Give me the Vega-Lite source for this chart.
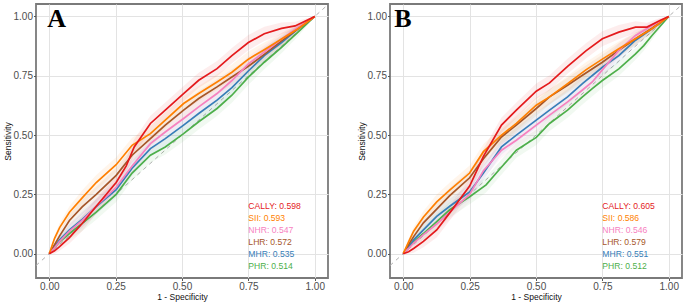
{
"$schema": "https://vega.github.io/schema/vega-lite/v6.json",
"padding": {"left": 2, "right": 3, "top": 3, "bottom": 0},
"spacing": 27,
"config": {
  "font": "Liberation Sans",
  "view": {"stroke": "#7a7a7a", "strokeWidth": 1.8},
  "axis": {
    "domain": false,
    "labelFontSize": 10,
    "labelColor": "#4d4d4d",
    "labelPadding": 1,
    "labelOverlap": false,
    "labelFlush": false,
    "tickSize": 2.5,
    "tickColor": "#555555",
    "tickOpacity": {"condition": {"test": "(datum.value*4)%1!==0", "value": 0}, "value": 1},
    "gridColor": {"condition": {"test": "(datum.value*4)%1!==0", "value": "#f0f0f0"}, "value": "#e3e3e3"},
    "gridWidth": {"condition": {"test": "(datum.value*4)%1!==0", "value": 0.6}, "value": 1},
    "titleFontSize": 8.5,
    "titleFontWeight": "normal",
    "titleColor": "#111111",
    "titlePadding": 1,
    "labelExpr": "(datum.value*4)%1===0 ? format(datum.value,'.2f') : ''"
  }
},
"datasets": {
  "roc": [
{"p":"A","m":"PHR","x":0,"y":0,"lo":0,"hi":0},
{"p":"A","m":"PHR","x":0.02,"y":0.025,"lo":0.013,"hi":0.037},
{"p":"A","m":"PHR","x":0.039,"y":0.05,"lo":0.032,"hi":0.068},
{"p":"A","m":"PHR","x":0.076,"y":0.085,"lo":0.06,"hi":0.11},
{"p":"A","m":"PHR","x":0.124,"y":0.128,"lo":0.096,"hi":0.16},
{"p":"A","m":"PHR","x":0.177,"y":0.175,"lo":0.143,"hi":0.207},
{"p":"A","m":"PHR","x":0.252,"y":0.25,"lo":0.218,"hi":0.282},
{"p":"A","m":"PHR","x":0.312,"y":0.34,"lo":0.308,"hi":0.372},
{"p":"A","m":"PHR","x":0.381,"y":0.415,"lo":0.383,"hi":0.447},
{"p":"A","m":"PHR","x":0.437,"y":0.45,"lo":0.418,"hi":0.482},
{"p":"A","m":"PHR","x":0.506,"y":0.506,"lo":0.474,"hi":0.538},
{"p":"A","m":"PHR","x":0.563,"y":0.556,"lo":0.524,"hi":0.588},
{"p":"A","m":"PHR","x":0.632,"y":0.612,"lo":0.58,"hi":0.644},
{"p":"A","m":"PHR","x":0.688,"y":0.668,"lo":0.636,"hi":0.7},
{"p":"A","m":"PHR","x":0.75,"y":0.744,"lo":0.712,"hi":0.776},
{"p":"A","m":"PHR","x":0.81,"y":0.807,"lo":0.777,"hi":0.837},
{"p":"A","m":"PHR","x":0.875,"y":0.87,"lo":0.845,"hi":0.895},
{"p":"A","m":"PHR","x":0.937,"y":0.934,"lo":0.916,"hi":0.952},
{"p":"A","m":"PHR","x":1,"y":1,"lo":1,"hi":1},
{"p":"A","m":"MHR","x":0,"y":0,"lo":0,"hi":0},
{"p":"A","m":"MHR","x":0.02,"y":0.03,"lo":0.018,"hi":0.042},
{"p":"A","m":"MHR","x":0.039,"y":0.058,"lo":0.04,"hi":0.076},
{"p":"A","m":"MHR","x":0.076,"y":0.1,"lo":0.075,"hi":0.125},
{"p":"A","m":"MHR","x":0.124,"y":0.145,"lo":0.113,"hi":0.177},
{"p":"A","m":"MHR","x":0.177,"y":0.198,"lo":0.166,"hi":0.23},
{"p":"A","m":"MHR","x":0.252,"y":0.27,"lo":0.238,"hi":0.302},
{"p":"A","m":"MHR","x":0.312,"y":0.36,"lo":0.328,"hi":0.392},
{"p":"A","m":"MHR","x":0.381,"y":0.443,"lo":0.411,"hi":0.475},
{"p":"A","m":"MHR","x":0.437,"y":0.485,"lo":0.453,"hi":0.517},
{"p":"A","m":"MHR","x":0.506,"y":0.542,"lo":0.51,"hi":0.574},
{"p":"A","m":"MHR","x":0.563,"y":0.591,"lo":0.559,"hi":0.623},
{"p":"A","m":"MHR","x":0.632,"y":0.647,"lo":0.615,"hi":0.679},
{"p":"A","m":"MHR","x":0.688,"y":0.7,"lo":0.668,"hi":0.732},
{"p":"A","m":"MHR","x":0.75,"y":0.77,"lo":0.738,"hi":0.802},
{"p":"A","m":"MHR","x":0.81,"y":0.835,"lo":0.805,"hi":0.865},
{"p":"A","m":"MHR","x":0.875,"y":0.89,"lo":0.865,"hi":0.915},
{"p":"A","m":"MHR","x":0.937,"y":0.948,"lo":0.93,"hi":0.966},
{"p":"A","m":"MHR","x":1,"y":1,"lo":1,"hi":1},
{"p":"A","m":"LHR","x":0,"y":0,"lo":0,"hi":0},
{"p":"A","m":"LHR","x":0.02,"y":0.038,"lo":0.026,"hi":0.05},
{"p":"A","m":"LHR","x":0.039,"y":0.075,"lo":0.057,"hi":0.093},
{"p":"A","m":"LHR","x":0.076,"y":0.14,"lo":0.115,"hi":0.165},
{"p":"A","m":"LHR","x":0.124,"y":0.197,"lo":0.165,"hi":0.229},
{"p":"A","m":"LHR","x":0.177,"y":0.25,"lo":0.218,"hi":0.282},
{"p":"A","m":"LHR","x":0.252,"y":0.33,"lo":0.298,"hi":0.362},
{"p":"A","m":"LHR","x":0.312,"y":0.415,"lo":0.383,"hi":0.447},
{"p":"A","m":"LHR","x":0.381,"y":0.485,"lo":0.453,"hi":0.517},
{"p":"A","m":"LHR","x":0.437,"y":0.542,"lo":0.51,"hi":0.574},
{"p":"A","m":"LHR","x":0.506,"y":0.605,"lo":0.573,"hi":0.637},
{"p":"A","m":"LHR","x":0.563,"y":0.654,"lo":0.622,"hi":0.686},
{"p":"A","m":"LHR","x":0.632,"y":0.703,"lo":0.671,"hi":0.735},
{"p":"A","m":"LHR","x":0.688,"y":0.745,"lo":0.713,"hi":0.777},
{"p":"A","m":"LHR","x":0.75,"y":0.79,"lo":0.758,"hi":0.822},
{"p":"A","m":"LHR","x":0.81,"y":0.84,"lo":0.81,"hi":0.87},
{"p":"A","m":"LHR","x":0.875,"y":0.897,"lo":0.872,"hi":0.922},
{"p":"A","m":"LHR","x":0.937,"y":0.948,"lo":0.93,"hi":0.966},
{"p":"A","m":"LHR","x":1,"y":1,"lo":1,"hi":1},
{"p":"A","m":"NHR","x":0,"y":0,"lo":0,"hi":0},
{"p":"A","m":"NHR","x":0.02,"y":0.025,"lo":0.013,"hi":0.037},
{"p":"A","m":"NHR","x":0.039,"y":0.052,"lo":0.034,"hi":0.07},
{"p":"A","m":"NHR","x":0.076,"y":0.095,"lo":0.07,"hi":0.12},
{"p":"A","m":"NHR","x":0.124,"y":0.14,"lo":0.108,"hi":0.172},
{"p":"A","m":"NHR","x":0.177,"y":0.2,"lo":0.168,"hi":0.232},
{"p":"A","m":"NHR","x":0.252,"y":0.28,"lo":0.248,"hi":0.312},
{"p":"A","m":"NHR","x":0.312,"y":0.37,"lo":0.338,"hi":0.402},
{"p":"A","m":"NHR","x":0.381,"y":0.464,"lo":0.432,"hi":0.496},
{"p":"A","m":"NHR","x":0.437,"y":0.513,"lo":0.481,"hi":0.545},
{"p":"A","m":"NHR","x":0.506,"y":0.57,"lo":0.538,"hi":0.602},
{"p":"A","m":"NHR","x":0.563,"y":0.619,"lo":0.587,"hi":0.651},
{"p":"A","m":"NHR","x":0.632,"y":0.675,"lo":0.643,"hi":0.707},
{"p":"A","m":"NHR","x":0.688,"y":0.73,"lo":0.698,"hi":0.762},
{"p":"A","m":"NHR","x":0.75,"y":0.8,"lo":0.768,"hi":0.832},
{"p":"A","m":"NHR","x":0.81,"y":0.85,"lo":0.82,"hi":0.88},
{"p":"A","m":"NHR","x":0.875,"y":0.905,"lo":0.88,"hi":0.93},
{"p":"A","m":"NHR","x":0.937,"y":0.955,"lo":0.937,"hi":0.973},
{"p":"A","m":"NHR","x":1,"y":1,"lo":1,"hi":1},
{"p":"A","m":"SII","x":0,"y":0,"lo":0,"hi":0},
{"p":"A","m":"SII","x":0.02,"y":0.065,"lo":0.053,"hi":0.077},
{"p":"A","m":"SII","x":0.039,"y":0.11,"lo":0.092,"hi":0.128},
{"p":"A","m":"SII","x":0.076,"y":0.175,"lo":0.15,"hi":0.2},
{"p":"A","m":"SII","x":0.124,"y":0.235,"lo":0.203,"hi":0.267},
{"p":"A","m":"SII","x":0.177,"y":0.3,"lo":0.268,"hi":0.332},
{"p":"A","m":"SII","x":0.252,"y":0.375,"lo":0.343,"hi":0.407},
{"p":"A","m":"SII","x":0.312,"y":0.457,"lo":0.425,"hi":0.489},
{"p":"A","m":"SII","x":0.381,"y":0.506,"lo":0.474,"hi":0.538},
{"p":"A","m":"SII","x":0.437,"y":0.563,"lo":0.531,"hi":0.595},
{"p":"A","m":"SII","x":0.506,"y":0.633,"lo":0.601,"hi":0.665},
{"p":"A","m":"SII","x":0.563,"y":0.675,"lo":0.643,"hi":0.707},
{"p":"A","m":"SII","x":0.632,"y":0.724,"lo":0.692,"hi":0.756},
{"p":"A","m":"SII","x":0.688,"y":0.765,"lo":0.733,"hi":0.797},
{"p":"A","m":"SII","x":0.75,"y":0.82,"lo":0.788,"hi":0.852},
{"p":"A","m":"SII","x":0.81,"y":0.86,"lo":0.83,"hi":0.89},
{"p":"A","m":"SII","x":0.875,"y":0.905,"lo":0.88,"hi":0.93},
{"p":"A","m":"SII","x":0.937,"y":0.948,"lo":0.93,"hi":0.966},
{"p":"A","m":"SII","x":1,"y":1,"lo":1,"hi":1},
{"p":"A","m":"CALLY","x":0,"y":0,"lo":0,"hi":0},
{"p":"A","m":"CALLY","x":0.02,"y":0.012,"lo":0,"hi":0.024},
{"p":"A","m":"CALLY","x":0.039,"y":0.03,"lo":0.012,"hi":0.048},
{"p":"A","m":"CALLY","x":0.076,"y":0.068,"lo":0.043,"hi":0.093},
{"p":"A","m":"CALLY","x":0.124,"y":0.127,"lo":0.095,"hi":0.159},
{"p":"A","m":"CALLY","x":0.177,"y":0.2,"lo":0.168,"hi":0.232},
{"p":"A","m":"CALLY","x":0.252,"y":0.3,"lo":0.268,"hi":0.332},
{"p":"A","m":"CALLY","x":0.29,"y":0.37,"lo":0.338,"hi":0.402},
{"p":"A","m":"CALLY","x":0.32,"y":0.45,"lo":0.418,"hi":0.482},
{"p":"A","m":"CALLY","x":0.381,"y":0.549,"lo":0.517,"hi":0.581},
{"p":"A","m":"CALLY","x":0.437,"y":0.605,"lo":0.573,"hi":0.637},
{"p":"A","m":"CALLY","x":0.506,"y":0.675,"lo":0.643,"hi":0.707},
{"p":"A","m":"CALLY","x":0.563,"y":0.731,"lo":0.699,"hi":0.763},
{"p":"A","m":"CALLY","x":0.632,"y":0.78,"lo":0.748,"hi":0.812},
{"p":"A","m":"CALLY","x":0.688,"y":0.835,"lo":0.803,"hi":0.867},
{"p":"A","m":"CALLY","x":0.75,"y":0.89,"lo":0.858,"hi":0.922},
{"p":"A","m":"CALLY","x":0.81,"y":0.927,"lo":0.897,"hi":0.957},
{"p":"A","m":"CALLY","x":0.875,"y":0.95,"lo":0.925,"hi":0.975},
{"p":"A","m":"CALLY","x":0.926,"y":0.96,"lo":0.942,"hi":0.978},
{"p":"A","m":"CALLY","x":0.963,"y":0.98,"lo":0.97,"hi":0.99},
{"p":"A","m":"CALLY","x":1,"y":1,"lo":1,"hi":1},
{"p":"B","m":"PHR","x":0,"y":0,"lo":0,"hi":0},
{"p":"B","m":"PHR","x":0.02,"y":0.025,"lo":0.013,"hi":0.037},
{"p":"B","m":"PHR","x":0.039,"y":0.05,"lo":0.032,"hi":0.068},
{"p":"B","m":"PHR","x":0.076,"y":0.085,"lo":0.06,"hi":0.11},
{"p":"B","m":"PHR","x":0.126,"y":0.135,"lo":0.103,"hi":0.167},
{"p":"B","m":"PHR","x":0.175,"y":0.185,"lo":0.153,"hi":0.217},
{"p":"B","m":"PHR","x":0.25,"y":0.24,"lo":0.208,"hi":0.272},
{"p":"B","m":"PHR","x":0.312,"y":0.29,"lo":0.258,"hi":0.322},
{"p":"B","m":"PHR","x":0.362,"y":0.355,"lo":0.323,"hi":0.387},
{"p":"B","m":"PHR","x":0.426,"y":0.436,"lo":0.404,"hi":0.468},
{"p":"B","m":"PHR","x":0.501,"y":0.49,"lo":0.458,"hi":0.522},
{"p":"B","m":"PHR","x":0.551,"y":0.549,"lo":0.517,"hi":0.581},
{"p":"B","m":"PHR","x":0.619,"y":0.605,"lo":0.573,"hi":0.637},
{"p":"B","m":"PHR","x":0.675,"y":0.661,"lo":0.629,"hi":0.693},
{"p":"B","m":"PHR","x":0.712,"y":0.696,"lo":0.664,"hi":0.728},
{"p":"B","m":"PHR","x":0.75,"y":0.73,"lo":0.698,"hi":0.762},
{"p":"B","m":"PHR","x":0.812,"y":0.779,"lo":0.749,"hi":0.809},
{"p":"B","m":"PHR","x":0.875,"y":0.842,"lo":0.817,"hi":0.867},
{"p":"B","m":"PHR","x":0.906,"y":0.877,"lo":0.855,"hi":0.899},
{"p":"B","m":"PHR","x":0.937,"y":0.92,"lo":0.902,"hi":0.938},
{"p":"B","m":"PHR","x":1,"y":1,"lo":1,"hi":1},
{"p":"B","m":"MHR","x":0,"y":0,"lo":0,"hi":0},
{"p":"B","m":"MHR","x":0.02,"y":0.03,"lo":0.018,"hi":0.042},
{"p":"B","m":"MHR","x":0.039,"y":0.058,"lo":0.04,"hi":0.076},
{"p":"B","m":"MHR","x":0.076,"y":0.1,"lo":0.075,"hi":0.125},
{"p":"B","m":"MHR","x":0.126,"y":0.157,"lo":0.125,"hi":0.189},
{"p":"B","m":"MHR","x":0.175,"y":0.2,"lo":0.168,"hi":0.232},
{"p":"B","m":"MHR","x":0.25,"y":0.26,"lo":0.228,"hi":0.292},
{"p":"B","m":"MHR","x":0.302,"y":0.34,"lo":0.308,"hi":0.372},
{"p":"B","m":"MHR","x":0.37,"y":0.45,"lo":0.418,"hi":0.482},
{"p":"B","m":"MHR","x":0.426,"y":0.5,"lo":0.468,"hi":0.532},
{"p":"B","m":"MHR","x":0.501,"y":0.563,"lo":0.531,"hi":0.595},
{"p":"B","m":"MHR","x":0.551,"y":0.605,"lo":0.573,"hi":0.637},
{"p":"B","m":"MHR","x":0.619,"y":0.661,"lo":0.629,"hi":0.693},
{"p":"B","m":"MHR","x":0.675,"y":0.717,"lo":0.685,"hi":0.749},
{"p":"B","m":"MHR","x":0.75,"y":0.786,"lo":0.754,"hi":0.818},
{"p":"B","m":"MHR","x":0.812,"y":0.835,"lo":0.805,"hi":0.865},
{"p":"B","m":"MHR","x":0.875,"y":0.9,"lo":0.875,"hi":0.925},
{"p":"B","m":"MHR","x":0.937,"y":0.948,"lo":0.93,"hi":0.966},
{"p":"B","m":"MHR","x":1,"y":1,"lo":1,"hi":1},
{"p":"B","m":"LHR","x":0,"y":0,"lo":0,"hi":0},
{"p":"B","m":"LHR","x":0.02,"y":0.038,"lo":0.026,"hi":0.05},
{"p":"B","m":"LHR","x":0.039,"y":0.072,"lo":0.054,"hi":0.09},
{"p":"B","m":"LHR","x":0.076,"y":0.13,"lo":0.105,"hi":0.155},
{"p":"B","m":"LHR","x":0.126,"y":0.188,"lo":0.156,"hi":0.22},
{"p":"B","m":"LHR","x":0.175,"y":0.245,"lo":0.213,"hi":0.277},
{"p":"B","m":"LHR","x":0.25,"y":0.32,"lo":0.288,"hi":0.352},
{"p":"B","m":"LHR","x":0.302,"y":0.4,"lo":0.368,"hi":0.432},
{"p":"B","m":"LHR","x":0.37,"y":0.492,"lo":0.46,"hi":0.524},
{"p":"B","m":"LHR","x":0.426,"y":0.542,"lo":0.51,"hi":0.574},
{"p":"B","m":"LHR","x":0.501,"y":0.612,"lo":0.58,"hi":0.644},
{"p":"B","m":"LHR","x":0.551,"y":0.661,"lo":0.629,"hi":0.693},
{"p":"B","m":"LHR","x":0.619,"y":0.71,"lo":0.678,"hi":0.742},
{"p":"B","m":"LHR","x":0.675,"y":0.752,"lo":0.72,"hi":0.784},
{"p":"B","m":"LHR","x":0.75,"y":0.807,"lo":0.775,"hi":0.839},
{"p":"B","m":"LHR","x":0.812,"y":0.857,"lo":0.827,"hi":0.887},
{"p":"B","m":"LHR","x":0.875,"y":0.906,"lo":0.881,"hi":0.931},
{"p":"B","m":"LHR","x":0.937,"y":0.95,"lo":0.932,"hi":0.968},
{"p":"B","m":"LHR","x":1,"y":1,"lo":1,"hi":1},
{"p":"B","m":"NHR","x":0,"y":0,"lo":0,"hi":0},
{"p":"B","m":"NHR","x":0.02,"y":0.022,"lo":0.01,"hi":0.034},
{"p":"B","m":"NHR","x":0.039,"y":0.045,"lo":0.027,"hi":0.063},
{"p":"B","m":"NHR","x":0.076,"y":0.08,"lo":0.055,"hi":0.105},
{"p":"B","m":"NHR","x":0.126,"y":0.125,"lo":0.093,"hi":0.157},
{"p":"B","m":"NHR","x":0.175,"y":0.175,"lo":0.143,"hi":0.207},
{"p":"B","m":"NHR","x":0.25,"y":0.25,"lo":0.218,"hi":0.282},
{"p":"B","m":"NHR","x":0.302,"y":0.35,"lo":0.318,"hi":0.382},
{"p":"B","m":"NHR","x":0.37,"y":0.436,"lo":0.404,"hi":0.468},
{"p":"B","m":"NHR","x":0.426,"y":0.478,"lo":0.446,"hi":0.51},
{"p":"B","m":"NHR","x":0.501,"y":0.542,"lo":0.51,"hi":0.574},
{"p":"B","m":"NHR","x":0.551,"y":0.584,"lo":0.552,"hi":0.616},
{"p":"B","m":"NHR","x":0.619,"y":0.64,"lo":0.608,"hi":0.672},
{"p":"B","m":"NHR","x":0.675,"y":0.69,"lo":0.658,"hi":0.722},
{"p":"B","m":"NHR","x":0.712,"y":0.724,"lo":0.692,"hi":0.756},
{"p":"B","m":"NHR","x":0.75,"y":0.775,"lo":0.743,"hi":0.807},
{"p":"B","m":"NHR","x":0.812,"y":0.857,"lo":0.827,"hi":0.887},
{"p":"B","m":"NHR","x":0.875,"y":0.92,"lo":0.895,"hi":0.945},
{"p":"B","m":"NHR","x":0.937,"y":0.962,"lo":0.944,"hi":0.98},
{"p":"B","m":"NHR","x":1,"y":1,"lo":1,"hi":1},
{"p":"B","m":"SII","x":0,"y":0,"lo":0,"hi":0},
{"p":"B","m":"SII","x":0.02,"y":0.05,"lo":0.038,"hi":0.062},
{"p":"B","m":"SII","x":0.039,"y":0.095,"lo":0.077,"hi":0.113},
{"p":"B","m":"SII","x":0.076,"y":0.155,"lo":0.13,"hi":0.18},
{"p":"B","m":"SII","x":0.126,"y":0.218,"lo":0.186,"hi":0.25},
{"p":"B","m":"SII","x":0.175,"y":0.268,"lo":0.236,"hi":0.3},
{"p":"B","m":"SII","x":0.25,"y":0.34,"lo":0.308,"hi":0.372},
{"p":"B","m":"SII","x":0.302,"y":0.43,"lo":0.398,"hi":0.462},
{"p":"B","m":"SII","x":0.37,"y":0.5,"lo":0.468,"hi":0.532},
{"p":"B","m":"SII","x":0.426,"y":0.549,"lo":0.517,"hi":0.581},
{"p":"B","m":"SII","x":0.501,"y":0.626,"lo":0.594,"hi":0.658},
{"p":"B","m":"SII","x":0.551,"y":0.661,"lo":0.629,"hi":0.693},
{"p":"B","m":"SII","x":0.619,"y":0.717,"lo":0.685,"hi":0.749},
{"p":"B","m":"SII","x":0.688,"y":0.775,"lo":0.743,"hi":0.807},
{"p":"B","m":"SII","x":0.75,"y":0.82,"lo":0.788,"hi":0.852},
{"p":"B","m":"SII","x":0.812,"y":0.864,"lo":0.834,"hi":0.894},
{"p":"B","m":"SII","x":0.875,"y":0.906,"lo":0.881,"hi":0.931},
{"p":"B","m":"SII","x":0.937,"y":0.948,"lo":0.93,"hi":0.966},
{"p":"B","m":"SII","x":1,"y":1,"lo":1,"hi":1},
{"p":"B","m":"CALLY","x":0,"y":0,"lo":0,"hi":0},
{"p":"B","m":"CALLY","x":0.02,"y":0.008,"lo":0,"hi":0.02},
{"p":"B","m":"CALLY","x":0.039,"y":0.022,"lo":0.004,"hi":0.04},
{"p":"B","m":"CALLY","x":0.076,"y":0.052,"lo":0.027,"hi":0.077},
{"p":"B","m":"CALLY","x":0.126,"y":0.1,"lo":0.068,"hi":0.132},
{"p":"B","m":"CALLY","x":0.175,"y":0.172,"lo":0.14,"hi":0.204},
{"p":"B","m":"CALLY","x":0.25,"y":0.285,"lo":0.253,"hi":0.317},
{"p":"B","m":"CALLY","x":0.302,"y":0.41,"lo":0.378,"hi":0.442},
{"p":"B","m":"CALLY","x":0.37,"y":0.542,"lo":0.51,"hi":0.574},
{"p":"B","m":"CALLY","x":0.426,"y":0.605,"lo":0.573,"hi":0.637},
{"p":"B","m":"CALLY","x":0.501,"y":0.685,"lo":0.653,"hi":0.717},
{"p":"B","m":"CALLY","x":0.551,"y":0.72,"lo":0.688,"hi":0.752},
{"p":"B","m":"CALLY","x":0.619,"y":0.79,"lo":0.758,"hi":0.822},
{"p":"B","m":"CALLY","x":0.688,"y":0.855,"lo":0.823,"hi":0.887},
{"p":"B","m":"CALLY","x":0.75,"y":0.906,"lo":0.874,"hi":0.938},
{"p":"B","m":"CALLY","x":0.812,"y":0.934,"lo":0.904,"hi":0.964},
{"p":"B","m":"CALLY","x":0.875,"y":0.955,"lo":0.93,"hi":0.98},
{"p":"B","m":"CALLY","x":0.918,"y":0.955,"lo":0.937,"hi":0.973},
{"p":"B","m":"CALLY","x":0.967,"y":0.983,"lo":0.973,"hi":0.993},
{"p":"B","m":"CALLY","x":1,"y":1,"lo":1,"hi":1}
  ],
  "auc": [
{"p":"A","m":"CALLY","t":"CALLY: 0.598","x":0.75,"y":0.2},
{"p":"A","m":"SII","t":"SII: 0.593","x":0.75,"y":0.15},
{"p":"A","m":"NHR","t":"NHR: 0.547","x":0.75,"y":0.1},
{"p":"A","m":"LHR","t":"LHR: 0.572","x":0.75,"y":0.05},
{"p":"A","m":"MHR","t":"MHR: 0.535","x":0.75,"y":0},
{"p":"A","m":"PHR","t":"PHR: 0.514","x":0.75,"y":-0.05},
{"p":"B","m":"CALLY","t":"CALLY: 0.605","x":0.75,"y":0.2},
{"p":"B","m":"SII","t":"SII: 0.586","x":0.75,"y":0.15},
{"p":"B","m":"NHR","t":"NHR: 0.546","x":0.75,"y":0.1},
{"p":"B","m":"LHR","t":"LHR: 0.579","x":0.75,"y":0.05},
{"p":"B","m":"MHR","t":"MHR: 0.551","x":0.75,"y":0},
{"p":"B","m":"PHR","t":"PHR: 0.512","x":0.75,"y":-0.05}
  ],
  "tag": [
{"p":"A","t":"A","x":-0.008,"y":0.99},
{"p":"B","t":"B","x":-0.034,"y":0.99}
  ],
  "diag": [
{"x":-0.05,"y":-0.05},
{"x":1.05,"y":1.05}
  ]
},
"hconcat": [
 {
  "width": 292, "height": 274,
  "layer": [
   {"data": {"name": "diag"}, "mark": {"type": "line", "color": "#b0b0b0", "strokeDash": [4, 4], "strokeWidth": 1, "clip": true},
    "encoding": {"x": {"field": "x", "type": "quantitative", "scale": {"domain": [-0.05, 1.05], "nice": false, "zero": false}, "title": "1 - Specificity", "axis": {"values": [0, 0.125, 0.25, 0.375, 0.5, 0.625, 0.75, 0.875, 1]}},
                 "y": {"field": "y", "type": "quantitative", "scale": {"domain": [-0.1025, 1.0525], "nice": false, "zero": false}, "title": "Sensitivity", "axis": {"values": [0, 0.125, 0.25, 0.375, 0.5, 0.625, 0.75, 0.875, 1]}}}},
   {"data": {"name": "roc"}, "transform": [{"filter": "datum.p === 'A'"}], "mark": {"type": "area", "opacity": 0.08},
    "encoding": {"x": {"field": "x", "type": "quantitative"}, "y": {"field": "lo", "type": "quantitative"}, "y2": {"field": "hi"},
                 "color": {"field": "m", "type": "nominal", "scale": {"domain": ["CALLY","SII","NHR","LHR","MHR","PHR"], "range": ["#E41A1C","#FF7F00","#F781BF","#A65628","#377EB8","#4DAF4A"]}, "legend": null}}},
   {"data": {"name": "roc"}, "transform": [{"filter": "datum.p === 'A'"}], "mark": {"type": "line", "strokeWidth": 1.7},
    "encoding": {"x": {"field": "x", "type": "quantitative"}, "y": {"field": "y", "type": "quantitative"},
                 "color": {"field": "m", "type": "nominal", "legend": null}}},
   {"data": {"name": "auc"}, "transform": [{"filter": "datum.p === 'A'"}], "mark": {"type": "text", "align": "left", "baseline": "middle", "fontSize": 8.6},
    "encoding": {"x": {"field": "x", "type": "quantitative"}, "y": {"field": "y", "type": "quantitative"}, "text": {"field": "t"},
                 "color": {"field": "m", "type": "nominal", "legend": null}}},
   {"data": {"name": "tag"}, "transform": [{"filter": "datum.p === 'A'"}], "mark": {"type": "text", "align": "left", "baseline": "middle", "fontSize": 26, "font": "Liberation Serif", "fontWeight": "bold", "color": "#000000"},
    "encoding": {"x": {"field": "x", "type": "quantitative"}, "y": {"field": "y", "type": "quantitative"}, "text": {"field": "t"}}}
  ]
 },
 {
  "width": 292, "height": 274,
  "layer": [
   {"data": {"name": "diag"}, "mark": {"type": "line", "color": "#b0b0b0", "strokeDash": [4, 4], "strokeWidth": 1, "clip": true},
    "encoding": {"x": {"field": "x", "type": "quantitative", "scale": {"domain": [-0.05, 1.05], "nice": false, "zero": false}, "title": "1 - Specificity", "axis": {"values": [0, 0.125, 0.25, 0.375, 0.5, 0.625, 0.75, 0.875, 1]}},
                 "y": {"field": "y", "type": "quantitative", "scale": {"domain": [-0.1025, 1.0525], "nice": false, "zero": false}, "title": "Sensitivity", "axis": {"values": [0, 0.125, 0.25, 0.375, 0.5, 0.625, 0.75, 0.875, 1]}}}},
   {"data": {"name": "roc"}, "transform": [{"filter": "datum.p === 'B'"}], "mark": {"type": "area", "opacity": 0.08},
    "encoding": {"x": {"field": "x", "type": "quantitative"}, "y": {"field": "lo", "type": "quantitative"}, "y2": {"field": "hi"},
                 "color": {"field": "m", "type": "nominal", "scale": {"domain": ["CALLY","SII","NHR","LHR","MHR","PHR"], "range": ["#E41A1C","#FF7F00","#F781BF","#A65628","#377EB8","#4DAF4A"]}, "legend": null}}},
   {"data": {"name": "roc"}, "transform": [{"filter": "datum.p === 'B'"}], "mark": {"type": "line", "strokeWidth": 1.7},
    "encoding": {"x": {"field": "x", "type": "quantitative"}, "y": {"field": "y", "type": "quantitative"},
                 "color": {"field": "m", "type": "nominal", "legend": null}}},
   {"data": {"name": "auc"}, "transform": [{"filter": "datum.p === 'B'"}], "mark": {"type": "text", "align": "left", "baseline": "middle", "fontSize": 8.6},
    "encoding": {"x": {"field": "x", "type": "quantitative"}, "y": {"field": "y", "type": "quantitative"}, "text": {"field": "t"},
                 "color": {"field": "m", "type": "nominal", "legend": null}}},
   {"data": {"name": "tag"}, "transform": [{"filter": "datum.p === 'B'"}], "mark": {"type": "text", "align": "left", "baseline": "middle", "fontSize": 26, "font": "Liberation Serif", "fontWeight": "bold", "color": "#000000"},
    "encoding": {"x": {"field": "x", "type": "quantitative"}, "y": {"field": "y", "type": "quantitative"}, "text": {"field": "t"}}}
  ]
 }
]
}
